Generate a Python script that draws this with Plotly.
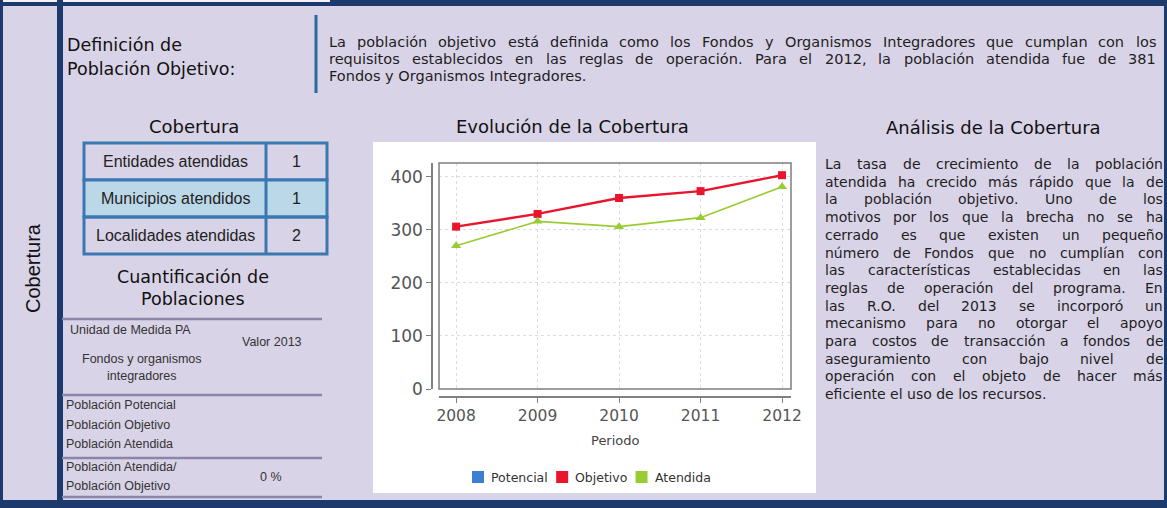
import plotly.graph_objects as go

W, H = 1167, 508

# ---------------- data ----------------
years = [2008, 2009, 2010, 2011, 2012]
potencial = []                       # no values drawn in the chart
objetivo = [306, 330, 360, 373, 403]
atendida = [270, 316, 306, 323, 381]
y_ticks = [0, 100, 200, 300, 400]
series_names = ["Potencial", "Objetivo", "Atendida"]

cob_labels = ["Entidades atendidas", "Municipios atendidos", "Localidades atendidas"]
cob_values = ["1", "1", "2"]

def_title = ["Definición de", "Población Objetivo:"]
def_text = [
    "La población objetivo está definida como los Fondos y Organismos Integradores que cumplan con los",
    "requisitos establecidos en las reglas de operación.  Para el 2012, la población atendida fue de 381",
    "Fondos y Organismos Integradores.",
]
analisis = [
    "La tasa de crecimiento de la población",
    "atendida ha crecido más rápido que la de",
    "la población objetivo.  Uno de los",
    "motivos por los que la brecha no se ha",
    "cerrado es que existen un pequeño",
    "número de Fondos que no cumplían con",
    "las características establecidas en las",
    "reglas de operación del programa.  En",
    "las R.O. del 2013 se incorporó un",
    "mecanismo para no otorgar el apoyo",
    "para costos de transacción a fondos de",
    "aseguramiento con bajo nivel de",
    "operación con el objeto de hacer más",
    "eficiente el uso de los recursos.",
]
pob_rows = ["Población Potencial", "Población Objetivo", "Población Atendida"]
ratio_rows = ["Población Atendida/", "Población Objetivo"]
ratio_value = "0 %"

# ---------------- styles ----------------
BG = "#d9d3e7"
NAVY = "#1c3a6c"
TBL = "#3a78b2"
TBL_FILL = "#bad8e8"
SEP = "#8d84aa"
SANS = "Liberation Sans, Arial, sans-serif"
DJV = "DejaVu Sans, sans-serif"
RED = "#e8152d"
GREEN = "#99cc33"
BLUE = "#3d7fd0"
SERIES_COLORS = [BLUE, RED, GREEN]

def px(x):
    return x / W

def py(y):
    return 1 - y / H

# DejaVu Sans advance widths (em)
DJ = {' ': .318, '.': .318, ',': .318, '/': .337, ':': .337, '%': .95,
      'A': .684, 'B': .686, 'C': .698, 'D': .770, 'E': .632, 'F': .575, 'G': .775,
      'H': .752, 'I': .295, 'J': .295, 'K': .656, 'L': .557, 'M': .863, 'N': .748,
      'O': .787, 'P': .603, 'Q': .787, 'R': .695, 'S': .635, 'T': .611, 'U': .732,
      'V': .684, 'W': .989, 'X': .685, 'Y': .611, 'Z': .686,
      'a': .613, 'b': .635, 'c': .550, 'd': .635, 'e': .615, 'f': .352, 'g': .635,
      'h': .634, 'i': .278, 'j': .278, 'k': .579, 'l': .278, 'm': .974, 'n': .634,
      'o': .612, 'p': .635, 'q': .635, 'r': .411, 's': .521, 't': .392, 'u': .634,
      'v': .592, 'w': .818, 'x': .592, 'y': .592, 'z': .525,
      'á': .613, 'é': .615, 'í': .278, 'ó': .612, 'ú': .634, 'ñ': .634}

def tw(s, size):
    return sum(DJ.get(c, .636) for c in s) * size

annotations = []

def ann(text, x, y, size, family=SANS, color="#1e1e1e", xanchor="center", angle=0):
    annotations.append(dict(text=text, x=px(x), y=py(y), xref="paper", yref="paper",
                            showarrow=False, xanchor=xanchor, yanchor="middle",
                            font=dict(size=size, family=family, color=color),
                            borderpad=0, borderwidth=0, textangle=angle))

def justified(lines, x0, x1, y0, dy, size, color="#1e1e1e"):
    for i, line in enumerate(lines):
        y = y0 + i * dy
        words = line.split()
        if i == len(lines) - 1 or len(words) < 2:
            ann(line, x0, y, size, DJV, color, "left")
            continue
        total = sum(tw(w, size) for w in words)
        gap = (x1 - x0 - total) / (len(words) - 1)
        x = x0
        for w in words:
            ann(w, x, y, size, DJV, color, "left")
            x += tw(w, size) + gap

shapes = []

def rect(x0, y0, x1, y1, fill=None, line_color=None, lw=0, layer="below"):
    shapes.append(dict(type="rect", xref="paper", yref="paper",
                       x0=px(x0), x1=px(x1), y0=py(y1), y1=py(y0),
                       fillcolor=fill if fill else "rgba(0,0,0,0)",
                       line=dict(color=line_color if line_color else "rgba(0,0,0,0)", width=lw),
                       layer=layer))

def hline(x0, x1, y, color, lw):
    shapes.append(dict(type="line", xref="paper", yref="paper", x0=px(x0), x1=px(x1),
                       y0=py(y), y1=py(y), line=dict(color=color, width=lw), layer="below"))

def vline(x, y0, y1, color, lw):
    shapes.append(dict(type="line", xref="paper", yref="paper", x0=px(x), x1=px(x),
                       y0=py(y0), y1=py(y1), line=dict(color=color, width=lw), layer="below"))

# ---------------- frame ----------------
rect(0, 0, W, 6, fill=NAVY)
rect(0, 0, 330, 2, fill="#f2f2f6")
rect(0, 500, W, H, fill=NAVY)
rect(0, 0, 3, H, fill=NAVY)
rect(W - 3, 0, W, H, fill=NAVY)
rect(57, 0, 63, H, fill=NAVY)

ann("Cobertura", 33, 268, 20, SANS, "#111", angle=-90)

# ---------------- definition ----------------
ann(def_title[0], 67, 45, 17.5, DJV, "#111", "left")
ann(def_title[1], 67, 69, 17.5, DJV, "#111", "left")
vline(316, 15, 93, "#2b6a9c", 3)
justified(def_text, 329, 1156, 42, 17, 14.5, "#1e1e1e")

# ---------------- cobertura table ----------------
ann("Cobertura", 194, 126, 18, DJV, "#111")
tx0, tx1, tsplit = 84, 327, 266
row_y = [143, 180, 217, 254]
for i, (lab, val) in enumerate(zip(cob_labels, cob_values)):
    ya, yb = row_y[i], row_y[i + 1]
    rect(tx0, ya, tx1, yb, fill=TBL_FILL if i == 1 else None, line_color=TBL, lw=3)
    vline(tsplit, ya, yb, TBL, 3)
    ann(lab, (tx0 + tsplit) / 2, (ya + yb) / 2, 16, SANS, "#222")
    ann(val, (tsplit + tx1) / 2, (ya + yb) / 2, 16, SANS, "#222")

# ---------------- cuantificacion ----------------
ann("Cuantificación de", 193, 277, 17.5, DJV, "#111")
ann("Poblaciones", 193, 299, 17.5, DJV, "#111")
for yy in [319, 395, 458, 497]:
    hline(62, 322, yy, SEP, 2.5)
ann("Unidad de Medida PA", 70, 330, 12.5, SANS, "#333", "left")
ann("Valor 2013", 272, 342, 12.5, SANS, "#333")
ann("Fondos y organismos", 142, 359, 12.5, SANS, "#333")
ann("integradores", 142, 376, 12.5, SANS, "#333")
for i, r in enumerate(pob_rows):
    ann(r, 66, 405 + i * 19.5, 12.5, SANS, "#333", "left")
for i, r in enumerate(ratio_rows):
    ann(r, 66, 467 + i * 18.5, 12.5, SANS, "#333", "left")
ann(ratio_value, 271, 477, 12.5, SANS, "#333")

# ---------------- chart ----------------
ann("Evolución de la Cobertura", 572, 126, 18, DJV, "#111")
rect(373, 142, 816, 493, fill="white")
ann("Periodo", 615, 440, 13, DJV, "#444")

# legend (squares + names)
lx = 472
for nm, col in zip(series_names, SERIES_COLORS):
    rect(lx, 471, lx + 12, 483, fill=col, layer="above")
    ann(nm, lx + 19, 477, 12.5, DJV, "#333", "left")
    lx = lx + 19 + tw(nm, 12.5) + 8

fig = go.Figure()
fig.add_trace(go.Scatter(x=years[:len(potencial)], y=potencial, mode="lines+markers",
                         line=dict(color=BLUE, width=2), name=series_names[0]))
fig.add_trace(go.Scatter(x=years, y=objetivo, mode="lines+markers", name=series_names[1],
                         line=dict(color=RED, width=2.4),
                         marker=dict(symbol="square", size=8, color=RED)))
fig.add_trace(go.Scatter(x=years, y=atendida, mode="lines+markers", name=series_names[2],
                         line=dict(color=GREEN, width=1.6),
                         marker=dict(symbol="triangle-up", size=9, color=GREEN)))

shapes.append(dict(type="rect", xref="x domain", yref="y domain", x0=0, x1=1, y0=0, y1=1,
                   line=dict(color="#7d7d7d", width=1.5), layer="above"))

justified(analisis, 825, 1163, 164, 17.7, 14, "#1e1e1e")
ann("Análisis de la Cobertura", 993, 127, 18, DJV, "#111")

fig.update_layout(
    width=W, height=H, autosize=False,
    margin=dict(l=0, r=0, t=0, b=0, autoexpand=False),
    paper_bgcolor=BG, plot_bgcolor="white",
    shapes=shapes, annotations=annotations,
    showlegend=False,
    xaxis=dict(domain=[px(439), px(791)], range=[2007.79, 2012.11], anchor="free",
               position=py(397), tickvals=years, ticktext=[str(v) for v in years],
               showline=True, linecolor="#808080", linewidth=1.5,
               ticks="outside", ticklen=5, tickcolor="#808080",
               tickfont=dict(family=DJV, size=15.5, color="#555"),
               showgrid=True, gridcolor="#dcdcdc", griddash="dot", zeroline=False,
               automargin=False),
    yaxis=dict(domain=[py(389), py(163)], range=[0, 426], anchor="free", position=px(432),
               tickvals=y_ticks, showline=True, linecolor="#808080", linewidth=1.5,
               ticks="outside", ticklen=5, tickcolor="#808080",
               tickfont=dict(family=DJV, size=17, color="#555"),
               showgrid=True, gridcolor="#dcdcdc", griddash="dot", zeroline=False,
               automargin=False),
)

fig.write_html("out.html", config={"displayModeBar": False},
               post_script="document.body.style.margin='0';")
